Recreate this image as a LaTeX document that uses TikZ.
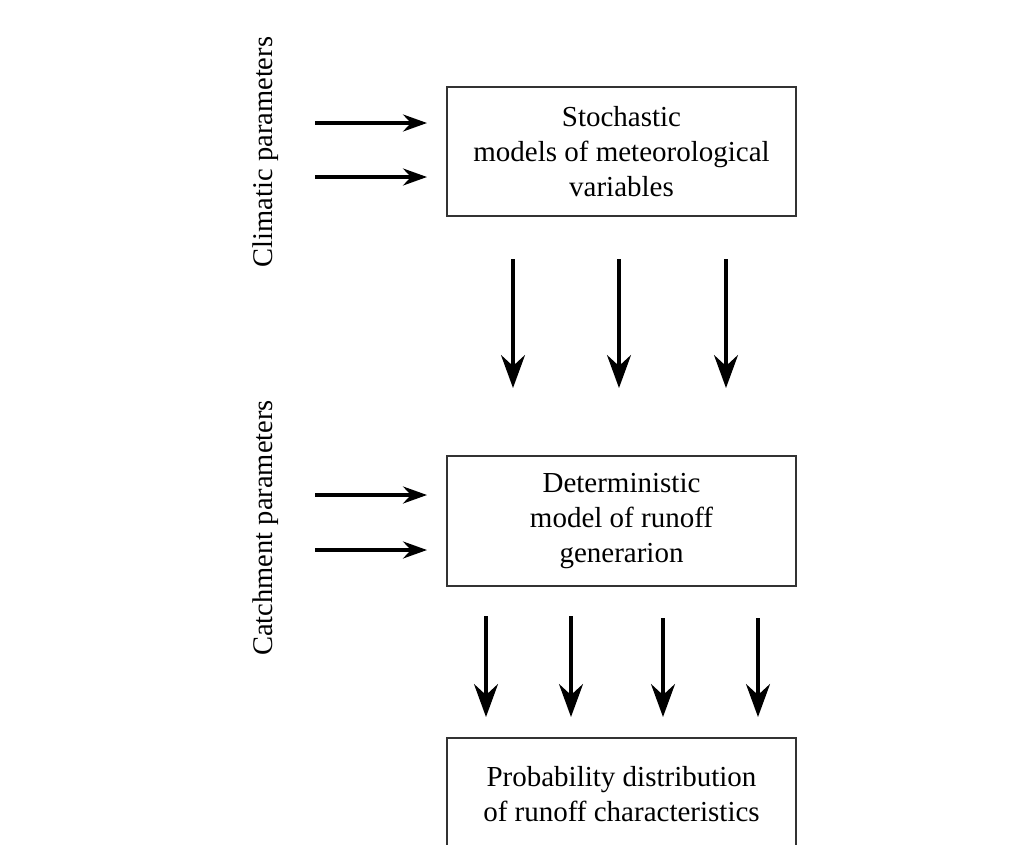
\documentclass[tikz,border=0pt]{standalone}
\usepackage{fontspec}
\setmainfont{Liberation Serif}
\usetikzlibrary{arrows.meta}
\begin{document}
\begin{tikzpicture}[x=1pt,y=-1pt,
    box/.style={draw=black!80,line width=2.2pt,minimum width=349pt,align=center,
      font=\fontsize{29}{35}\selectfont},
    side/.style={rotate=90,font=\fontsize{28.5}{34}\selectfont},
    feed/.style={line width=3.5pt,-{Stealth[length=24pt,width=17pt,inset=8pt]}},
    flow/.style={line width=3.2pt,-{Stealth[length=33pt,width=24pt,inset=11pt]}}]
      \useasboundingbox (0,0) rectangle (1020,844);
      \draw
        (621.5,151.5) node[box,minimum height=129pt] (stoch){Stochastic\\models of meteorological\\variables}
        (621.5,521) node[box,minimum height=130pt] (determ){Deterministic\\model of runoff\\generarion}
        (621.5,794) node[box,minimum height=112pt] (prob){Probability distribution\\of runoff characteristics}
        (266,152) node[side] (clim){Climatic parameters}
        (266,528) node[side] (catch){Catchment parameters};
      \path
        (315,123) coordinate (clim1) (427,123) coordinate (clim1t)
        (315,177) coordinate (clim2) (427,177) coordinate (clim2t)
        (315,495) coordinate (catch1) (427,495) coordinate (catch1t)
        (315,550) coordinate (catch2) (427,550) coordinate (catch2t)
        (513,259) coordinate (met1) (513,388) coordinate (met1t)
        (619,259) coordinate (met2) (619,388) coordinate (met2t)
        (726,259) coordinate (met3) (726,388) coordinate (met3t)
        (486,616) coordinate (run1) (486,717) coordinate (run1t)
        (571,616) coordinate (run2) (571,717) coordinate (run2t)
        (663,618) coordinate (run3) (663,717) coordinate (run3t)
        (758,618) coordinate (run4) (758,717) coordinate (run4t);
      \begin{scope}[feed]
        \draw (clim1) to (clim1t);
        \draw (clim2) to (clim2t);
        \draw (catch1) to (catch1t);
        \draw (catch2) to (catch2t);
      \end{scope}
      \begin{scope}[flow]
        \draw (met1) to (met1t);
        \draw (met2) to (met2t);
        \draw (met3) to (met3t);
        \draw (run1) to (run1t);
        \draw (run2) to (run2t);
        \draw (run3) to (run3t);
        \draw (run4) to (run4t);
      \end{scope}
    \end{tikzpicture}
\end{document}
